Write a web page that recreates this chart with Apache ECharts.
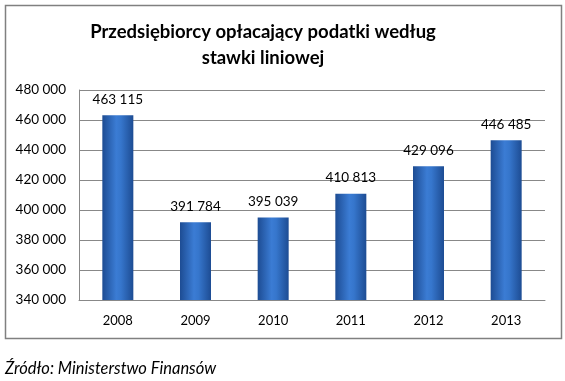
<!DOCTYPE html>
<html><head><meta charset="utf-8">
<script src="https://cdn.jsdelivr.net/npm/echarts@6/dist/echarts.min.js"></script>
<style>html,body{margin:0;padding:0;background:#fff}#c{width:565px;height:381px}</style>
</head><body><div id="c"></div>
<script>
const categories = ['2008','2009','2010','2011','2012','2013'];
const values = [463115, 391784, 395039, 410813, 429096, 446485];
const yTicks = [340000, 360000, 380000, 400000, 420000, 440000, 460000, 480000];
const titleText = 'Przedsiębiorcy opłacający podatki według\nstawki liniowej';
const sourceText = 'Źródło: Ministerstwo Finansów';

function fmt(v){ return String(v).replace(/\B(?=(\d{3})+(?!\d))/g, ' '); }
const FONT = 'Lato, "Open Sans", sans-serif';
const chart = echarts.init(document.getElementById('c'), null, {renderer:'canvas'});
chart.setOption({
  backgroundColor:'#fff',
  animation:false,
  graphic:[
    {type:'rect', shape:{x:5.5,y:5.5,width:556,height:333}, style:{fill:'none', stroke:'#808080', lineWidth:1.5}, z:-1},
    {type:'text', x:263, y:19, style:{text:titleText, textAlign:'center', fontFamily:FONT, fontWeight:'bold', fontSize:18.5, lineHeight:26, fill:'#000'}},
    {type:'text', x:5, y:360, style:{text:sourceText, fontFamily:FONT, fontStyle:'italic', fontSize:16.5, fill:'#000'}}
  ],
  grid:{left:79, right:20, top:90, bottom:81, containLabel:false},
  xAxis:{type:'category', data:categories,
    axisLine:{show:true, lineStyle:{color:'#888', width:1}},
    axisTick:{show:false},
    axisLabel:{color:'#000', fontFamily:FONT, fontSize:13, margin:14}},
  yAxis:{type:'value', min:yTicks[0], max:yTicks[yTicks.length-1], interval:yTicks[1]-yTicks[0],
    axisLine:{show:true, lineStyle:{color:'#888', width:1}},
    axisTick:{show:false},
    splitLine:{lineStyle:{color:'#888', width:1}},
    axisLabel:{color:'#000', fontFamily:FONT, fontSize:13.5, margin:13, formatter:fmt}},
  series:[{type:'bar', data:values, barWidth:31,
    itemStyle:{color:new echarts.graphic.LinearGradient(0,0,1,0,[
      {offset:0,color:'#1d4c93'},{offset:0.45,color:'#3b7cd4'},{offset:0.6,color:'#3676cc'},{offset:1,color:'#1d4c93'}])},
    label:{show:true, position:'top', distance:9, color:'#000', fontFamily:FONT, fontSize:13.5, formatter:p=>fmt(p.value)}
  }]
});
</script></body></html>
